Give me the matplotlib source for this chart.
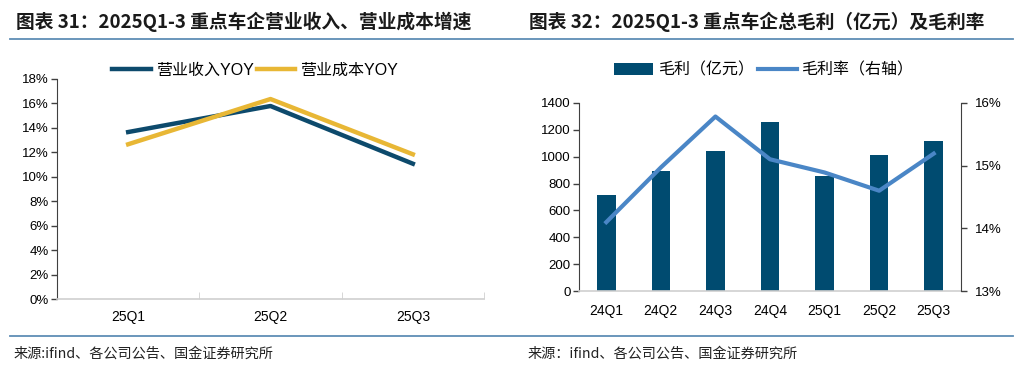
"""重点车企营收/成本增速 与 总毛利及毛利率"""
import numpy as np
import matplotlib.pyplot as plt
from matplotlib.lines import Line2D

plt.rcParams['font.family'] = ['Liberation Sans', 'Noto Sans CJK SC', 'DejaVu Sans']

# ---- data: left chart ----
quarters_l = ['25Q1', '25Q2', '25Q3']
rev_yoy = [13.66, 15.79, 11.07]     # 营业收入YOY (%)
cost_yoy = [12.66, 16.36, 11.84]    # 营业成本YOY (%)

# ---- data: right chart ----
quarters_r = ['24Q1', '24Q2', '24Q3', '24Q4', '25Q1', '25Q2', '25Q3']
gross_profit = [712, 895, 1039, 1256, 853, 1009, 1113]          # 毛利（亿元）
gross_margin = [14.10, 14.97, 15.78, 15.10, 14.89, 14.60, 15.19]  # 毛利率 (%)

NAVY = '#0D4A6C'
GOLD = '#E8B735'
BAR = '#004B70'
LINE = '#4A86C6'
RULE = '#5E8DB5'
W, H = 1032, 372

fig = plt.figure(figsize=(W / 100, H / 100), dpi=100)
fig.patch.set_facecolor('white')


def fx(px):
    return px / W


def fy(py):
    return 1 - py / H


# titles and rules
fig.text(fx(16), fy(22), '图表 31：2025Q1-3 重点车企营业收入、营业成本增速',
         fontsize=13.5, fontweight='bold', family=['Noto Sans CJK SC'],
         ha='left', va='center', color='#1a1a1a')
fig.text(fx(529), fy(22), '图表 32：2025Q1-3 重点车企总毛利（亿元）及毛利率',
         fontsize=13.5, fontweight='bold', family=['Noto Sans CJK SC'],
         ha='left', va='center', color='#1a1a1a')
for y in (39, 336):
    fig.add_artist(Line2D([fx(10), fx(1013)], [fy(y), fy(y)], color=RULE, lw=1.3))

fig.text(fx(14), fy(354), '来源:ifind、各公司公告、国金证券研究所', fontsize=10.2,
         family=['Noto Sans CJK SC'], ha='left', va='center', color='#222222')
fig.text(fx(528), fy(354), '来源：ifind、各公司公告、国金证券研究所', fontsize=10.2,
         family=['Noto Sans CJK SC'], ha='left', va='center', color='#222222')

# ---------- left chart ----------
ax1 = fig.add_axes([fx(57), fy(299), fx(484 - 57), (299 - 79) / H])
x1 = np.arange(len(quarters_l))
ax1.plot(x1, rev_yoy, color=NAVY, lw=3.2, label='营业收入YOY')
ax1.plot(x1, cost_yoy, color=GOLD, lw=3.2, label='营业成本YOY')
ax1.set_xlim(-0.5, len(quarters_l) - 0.5)
ax1.set_ylim(0, 18)
ax1.set_yticks(np.arange(0, 19, 2))
ax1.set_yticklabels([f'{v}%' for v in range(0, 19, 2)])
ax1.set_xticks(x1)
ax1.set_xticklabels(quarters_l)
ax1.set_xticks(np.arange(-0.5, len(quarters_l), 1), minor=True)
ax1.tick_params(axis='x', which='major', length=0, labelsize=10, pad=8)
ax1.tick_params(axis='x', which='minor', length=5, direction='in', color='#D0D0D0')
ax1.tick_params(axis='y', length=4, width=1, color='#404040', labelsize=9.5, pad=2)
for s in ('top', 'right'):
    ax1.spines[s].set_visible(False)
ax1.spines['left'].set_color('#404040')
ax1.spines['bottom'].set_color('#D0D0D0')
ax1.spines['bottom'].set_linewidth(1.2)
ax1.legend(loc='center', bbox_to_anchor=(fx(255), fy(70)), bbox_transform=fig.transFigure,
           ncol=2, frameon=False, fontsize=11.5, handlelength=2.4, handletextpad=0.3,
           columnspacing=0.2, borderpad=0)

# ---------- right chart ----------
ax2 = fig.add_axes([fx(579), fy(291.3), fx(961 - 579), (291.3 - 102.7) / H])
x2 = np.arange(len(quarters_r))
ax2.bar(x2, gross_profit, width=0.34, color=BAR, label='毛利（亿元）', zorder=2)
ax2.set_xlim(-0.5, len(quarters_r) - 0.5)
ax2.set_ylim(0, 1400)
ax2.set_yticks(np.arange(0, 1401, 200))
ax2.set_xticks(x2)
ax2.set_xticklabels(quarters_r)
ax2.tick_params(axis='x', length=0, labelsize=10, pad=9)
ax2.tick_params(axis='y', length=4, width=1, color='#404040', labelsize=9.5, pad=2)
ax2.spines['top'].set_visible(False)
ax2.spines['left'].set_color('#404040')
ax2.spines['right'].set_visible(False)
ax2.spines['bottom'].set_color('#D0D0D0')
ax2.spines['bottom'].set_linewidth(1.2)

ax3 = ax2.twinx()
ax3.plot(x2, gross_margin, color=LINE, lw=3.0, label='毛利率（右轴）', zorder=3)
ax3.set_ylim(13, 16)
ax3.set_yticks([13, 14, 15, 16])
ax3.set_yticklabels(['13%', '14%', '15%', '16%'])
ax3.tick_params(axis='y', length=4, width=1, color='#404040', labelsize=9.5, pad=6)
for s in ('top', 'left', 'bottom'):
    ax3.spines[s].set_visible(False)
ax3.spines['right'].set_color('#404040')

h1, l1 = ax2.get_legend_handles_labels()
h2, l2 = ax3.get_legend_handles_labels()
ax3.legend(h1 + h2, l1 + l2, loc='center', bbox_to_anchor=(fx(764), fy(70)),
           bbox_transform=fig.transFigure, ncol=2, frameon=False, fontsize=11.5,
           handlelength=2.4, handleheight=0.8, handletextpad=0.3, columnspacing=0.3,
           borderpad=0)

plt.savefig('out.png', dpi=100, facecolor='white')
plt.close()
